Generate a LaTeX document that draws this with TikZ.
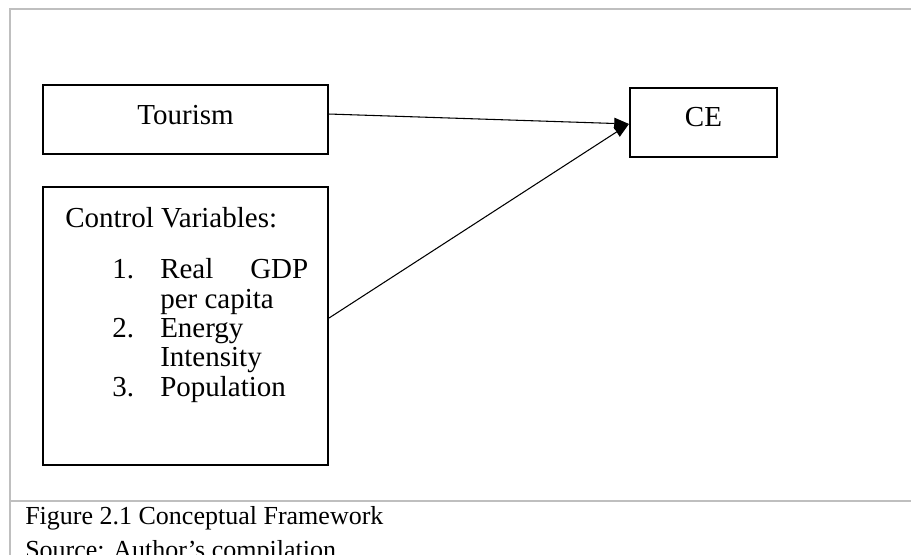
\documentclass[tikz,border=0pt]{standalone}
\usepackage{fontspec}
\setmainfont{Liberation Serif}
\usetikzlibrary{arrows.meta}
\begin{document}
\begin{tikzpicture}[x=0.75pt,y=-0.75pt,
  box/.style={draw=black,line width=1.6pt,rectangle,inner sep=0pt,
    font=\fontsize{21.75}{21.75}\selectfont},
  link/.style={draw=black,line width=0.8pt,-{Triangle[length=11pt,width=8.5pt]}},
  body/.style={inner sep=0pt,anchor=base west,font=\fontsize{21.75}{21.75}\selectfont},
  captext/.style={inner sep=0pt,anchor=base west,font=\fontsize{19.5}{19.5}\selectfont},
  frame/.style={draw=black!25,line width=1.5pt}]
\useasboundingbox (0,0) rectangle (911,555);

% outer frame and caption separator
\draw[frame] (10,556) -- (10,9) -- (912,9);
\draw[frame] (10,501) -- (912,501);

% boxes
\node[box,minimum width=213.75pt,minimum height=51.75pt,
  text height=8.25pt,text depth=0pt] (tourism) at (185.5,119.5) {Tourism};
\node[box,minimum width=110.25pt,minimum height=51.75pt,
  text height=6.75pt,text depth=0pt] (ce) at (703.5,122.5) {CE};
\node[box,minimum width=213.75pt,minimum height=208.5pt] (control) at (185.5,326) {};

% contents of the control-variable box
\node[body] (cvhead) at (65,228) {Control Variables:};
\node[body] (n1) at (112,279) {1.};
\node[body] (i1a) at (160,279) {\makebox[111pt][s]{Real\hfill GDP}};
\node[body] (i1b) at (160,308.3) {per capita};
\node[body] (n2) at (112,337.6) {2.};
\node[body] (i2a) at (160,337.6) {Energy};
\node[body] (i2b) at (160,366.9) {Intensity};
\node[body] (n3) at (112,396.2) {3.};
\node[body] (i3) at (160,396.2) {Population};

% connectors
\draw[link] ([yshift=4.1pt]tourism.east) -- ([yshift=-1.1pt]ce.west);
\draw[link] ([yshift=6pt]control.east) -- ([yshift=-1.1pt]ce.west);

% caption
\node[captext] (figcap) at (25,525) {Figure 2.1 Conceptual Framework};
\node[captext] (srccap) at (25,559) {Source: Author’s compilation};
\end{tikzpicture}
\end{document}
